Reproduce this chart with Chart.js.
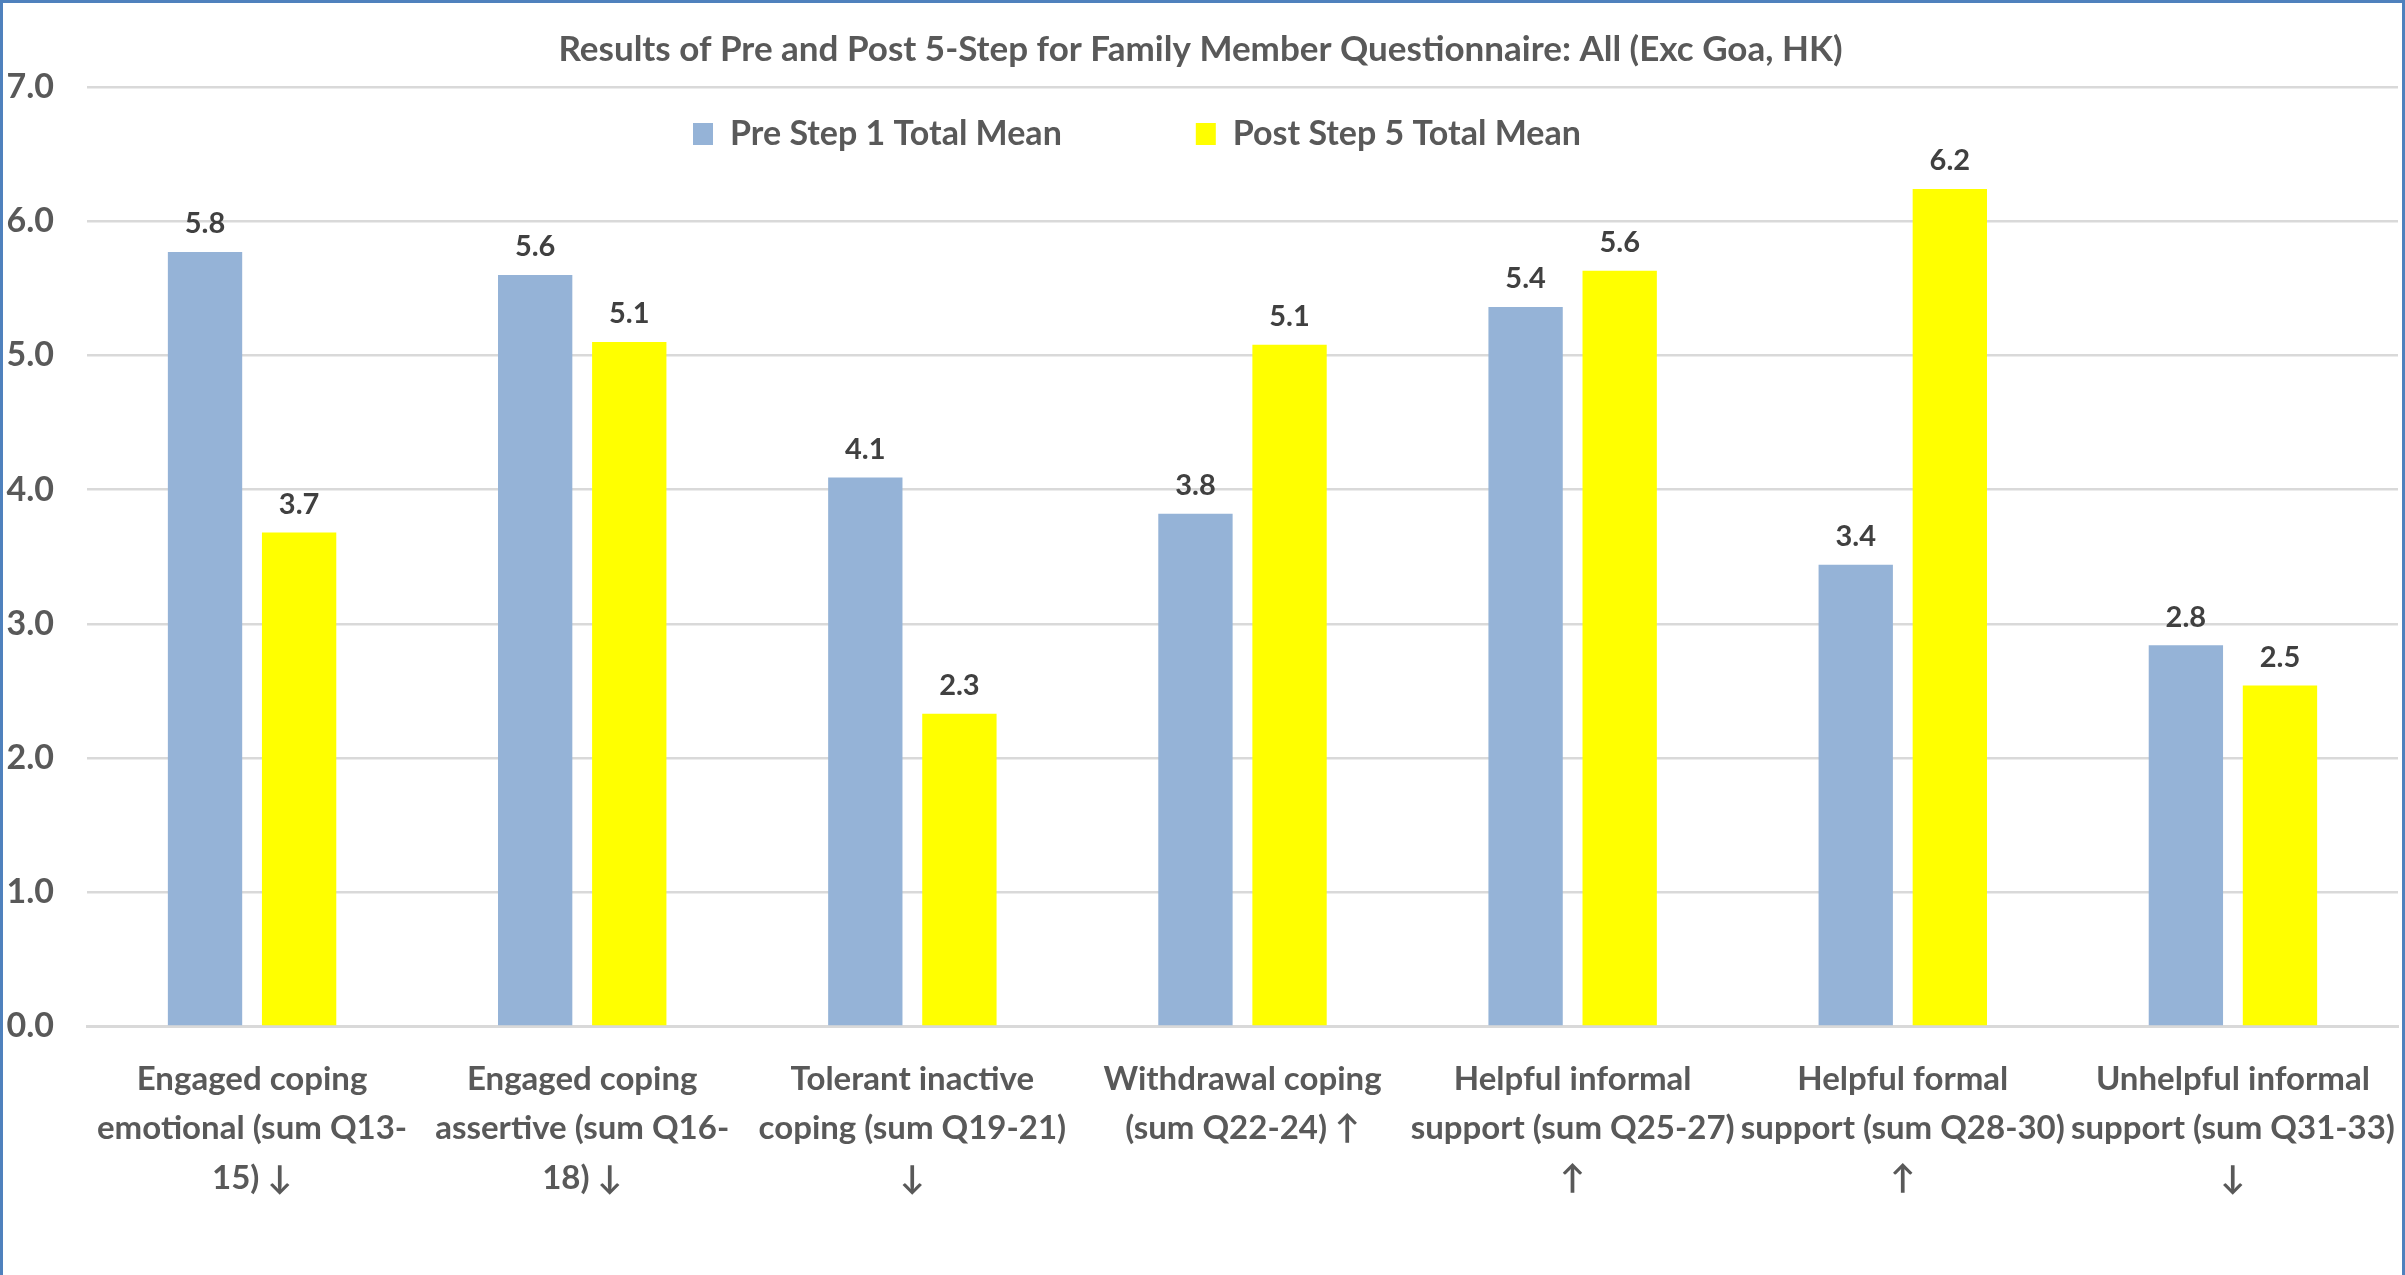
<!DOCTYPE html>
<html>
<head>
<meta charset="utf-8">
<script src="https://cdn.jsdelivr.net/npm/chart.js@4"></script>
<style>
    html, body { margin: 0; padding: 0; background: #fff; }
    #wrap {
        box-sizing: border-box;
        width: 2405px;
        height: 1275px;
        border: 3px solid #4f81bd;
        border-bottom: none;
    }
    #wrap canvas { display: block; }
</style>
</head>
<body>
<div id="wrap"><canvas id="fmChart"></canvas></div>
<script>
// Categories (x axis), wrapped as in the source chart
const categories = [
    ['Engaged coping', 'emotional (sum Q13-', '15) \u2193'],
    ['Engaged coping', 'assertive (sum Q16-', '18) \u2193'],
    ['Tolerant inactive', 'coping (sum Q19-21)', '\u2193'],
    ['Withdrawal coping', '(sum Q22-24) \u2191'],
    ['Helpful informal', 'support (sum Q25-27)', '\u2191'],
    ['Helpful formal', 'support (sum Q28-30)', '\u2191'],
    ['Unhelpful informal', 'support (sum Q31-33)', '\u2193']
];

const preMeans = [5.77, 5.60, 4.09, 3.82, 5.36, 3.44, 2.84];
const postMeans = [3.68, 5.10, 2.33, 5.08, 5.63, 6.24, 2.54];

const yTicks = [0, 1, 2, 3, 4, 5, 6, 7];

const seriesNames = ['Pre Step 1 Total Mean', 'Post Step 5 Total Mean'];

const grey = '#595959';

// value labels above each bar
const barValues = {
    id: 'barValues',
    afterDatasetsDraw(chart) {
        const ctx = chart.ctx;
        ctx.save();
        ctx.font = 'bold 29px Lato';
        ctx.fillStyle = '#404040';
        ctx.textAlign = 'center';
        ctx.textBaseline = 'middle';
        chart.data.datasets.forEach((ds, i) => {
            chart.getDatasetMeta(i).data.forEach((bar, j) => {
                ctx.fillText(ds.data[j].toFixed(1), bar.x, bar.y - 28);
            });
        });
        ctx.restore();
    }
};

// legend sits inside the plot, like the Excel original
const floatingLegend = {
    id: 'floatingLegend',
    afterInit(chart) {
        const lg = chart.legend;
        const fit = lg.fit;
        lg.fit = function () {
            fit.call(this);
            this.height = 0;
        };
    },
    afterLayout(chart) {
        const lg = chart.legend;
        lg.left = 556;
        lg.top = -20;
        lg.bottom = 200;
    }
};

const ctx = document.getElementById('fmChart').getContext('2d');
new Chart(ctx, {
    type: 'bar',
    data: {
        labels: categories,
        datasets: [{
            label: seriesNames[0],
            data: preMeans,
            backgroundColor: '#95b3d7',
            barPercentage: 0.79,
            categoryPercentage: 0.57
        }, {
            label: seriesNames[1],
            data: postMeans,
            backgroundColor: '#ffff00',
            barPercentage: 0.79,
            categoryPercentage: 0.57
        }]
    },
    options: {
        responsive: true,
        maintainAspectRatio: false,
        animation: false,
        layout: { padding: { left: 0, right: 4, top: 0, bottom: 44 } },
        plugins: {
            title: {
                display: true,
                text: 'Results of Pre and Post 5-Step for Family Member Questionnaire: All (Exc Goa, HK)',
                color: grey,
                font: { family: 'Lato', size: 35, weight: 'bold' },
                padding: { top: 26, bottom: 16 }
            },
            legend: {
                display: true,
                position: 'top',
                align: 'start',
                labels: {
                    color: grey,
                    font: { family: 'Lato', size: 34, weight: 'bold' },
                    boxWidth: 20,
                    boxHeight: 22,
                    padding: 134
                }
            },
            tooltip: { enabled: false }
        },
        scales: {
            x: {
                grid: { display: false, drawTicks: false },
                border: { color: '#d9d9d9', width: 3 },
                afterFit(scale) {
                    scale.paddingLeft = 0;
                    scale.paddingRight = 0;
                },
                ticks: {
                    color: grey,
                    font: { family: 'Lato', size: 33, weight: 'bold', lineHeight: 1.5 },
                    padding: 28,
                    autoSkip: false,
                    maxRotation: 0,
                    minRotation: 0
                }
            },
            y: {
                min: yTicks[0],
                max: yTicks[yTicks.length - 1],
                grid: { color: '#d9d9d9', lineWidth: 2.5, drawTicks: false },
                border: { display: false },
                afterFit(scale) { scale.width = 84; },
                afterBuildTicks(scale) { scale.ticks = yTicks.map(v => ({ value: v })); },
                ticks: {
                    color: grey,
                    font: { family: 'Lato', size: 34, weight: 'bold' },
                    padding: 33,
                    callback: v => v.toFixed(1)
                }
            }
        }
    },
    plugins: [barValues, floatingLegend]
});
</script>
</body>
</html>
